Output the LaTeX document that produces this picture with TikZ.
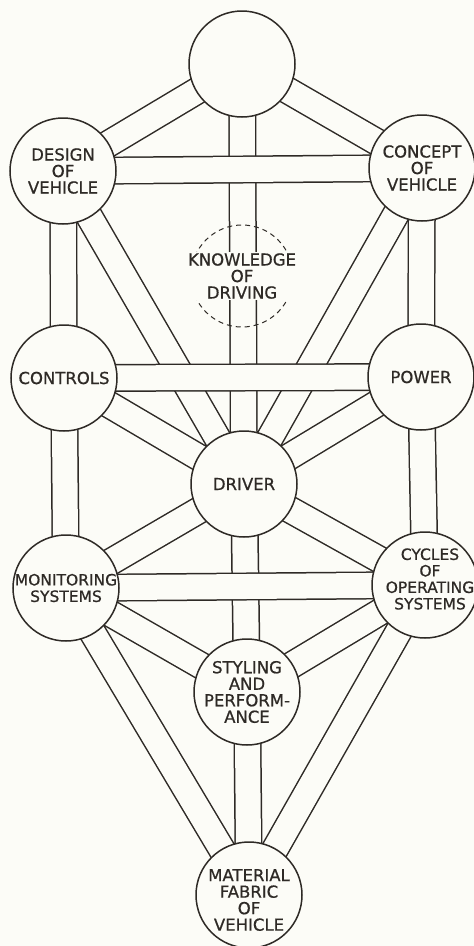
\documentclass[tikz,border=0pt]{standalone}
\usepackage{fontspec}
\newfontfamily\handfont{DejaVu Sans}[FakeBold=0.7]
\usetikzlibrary{backgrounds}
\definecolor{Ink}{HTML}{2E2A26}
\definecolor{Paper}{HTML}{FCFCF7}

\begin{document}
\begin{tikzpicture}[x=1pt,y=-1pt,
    sphere/.style={circle,draw=Ink,line width=1.5pt,fill=Paper,minimum size=106pt,inner sep=0pt},
    hidden/.style={circle,draw=Ink,line width=1pt,dash pattern=on 5pt off 4pt,minimum size=102pt,inner sep=0pt},
    lbl/.style={font=\handfont\fontsize{16.5}{16.5}\selectfont,text=Ink,align=center,inner sep=0pt},
    small/.style={lbl,font=\handfont\fontsize{15.5}{16.5}\selectfont},
    channel/.style={draw=Ink,line width=1.5pt,double=Paper,double distance=25pt}]
  \useasboundingbox (0,0) rectangle (474,946);
  \node[sphere] (crown) at (242,64) {};
  \node[sphere,label={[lbl]center:DESIGN\\OF\\VEHICLE}] (design) at (63,171) {};
  \node[sphere,label={[lbl]center:CONCEPT\\OF\\VEHICLE}] (concept) at (422,168) {};
  \node[hidden,label={[lbl,fill=Paper,inner sep=1pt]center:KNOWLEDGE\\OF\\DRIVING}] (know) at (242,276) {};
  \node[sphere,label={[lbl]center:CONTROLS}] (controls) at (64,378) {};
  \node[sphere,label={[lbl]center:POWER}] (power) at (421,377) {};
  \node[sphere,label={[lbl]center:DRIVER}] (driver) at (244,484) {};
  \node[sphere,label={[small]center:MONITORING\\SYSTEMS}] (monitor) at (66,588) {};
  \node[sphere,label={[small,yshift=6pt,xshift=5pt]center:CYCLES\\OF\\OPERATING\\SYSTEMS}] (cycles) at (425,585) {};
  \node[sphere,label={[lbl]center:STYLING\\AND\\PERFORM-\\ANCE}] (styling) at (247,692) {};
  \node[sphere,label={[lbl,yshift=-5pt]center:MATERIAL\\FABRIC\\OF\\VEHICLE}] (material) at (249,895) {};

  \begin{scope}[on background layer]
    \fill[Paper] (0,0) rectangle (474,946);
    % paths from the crown
    \draw[channel] (crown.center) -- (design.center);
    \draw[channel] (crown.center) -- (concept.center);
    \draw[channel] (crown.center) -- (driver.center);
    % side pillars
    \draw[channel] (design.center) -- (controls.center);
    \draw[channel] (controls.center) -- (monitor.center);
    \draw[channel] (concept.center) -- (power.center);
    \draw[channel] (power.center) -- (cycles.center);
    % into the driver
    \draw[channel] (design.center) -- (driver.center);
    \draw[channel] (concept.center) -- (driver.center);
    \draw[channel] (controls.center) -- (driver.center);
    \draw[channel] (power.center) -- (driver.center);
    \draw[channel] (monitor.center) -- (driver.center);
    \draw[channel] (cycles.center) -- (driver.center);
    \draw[channel] (driver.center) -- (styling.center);
    % lower paths
    \draw[channel] (monitor.center) -- (styling.center);
    \draw[channel] (cycles.center) -- (styling.center);
    \draw[channel] (monitor.center) -- (material.center);
    \draw[channel] (cycles.center) -- (material.center);
    \draw[channel] (styling.center) -- (material.center);
    % cross bars
    \draw[channel] (design.center) -- (concept.center);
    \draw[channel] (controls.center) -- (power.center);
    \draw[channel] (monitor.center) -- (cycles.center);
  \end{scope}
\end{tikzpicture}
\end{document}
